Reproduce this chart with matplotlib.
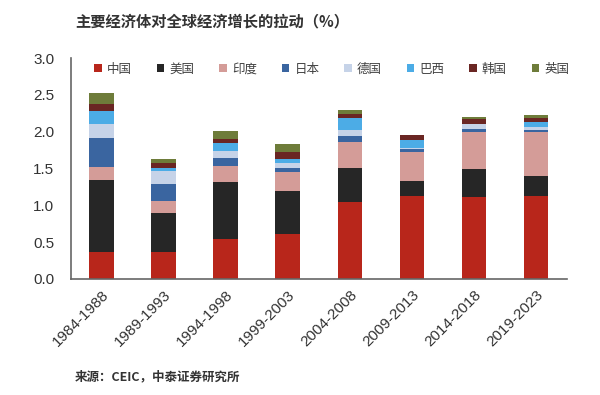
'''
fun: stacked bar of each economy's contribution to world growth
'''
import numpy as np
import matplotlib
matplotlib.use('Agg')
import matplotlib.pyplot as plt

plt.rcParams['font.family'] = ['Liberation Sans', 'Noto Sans CJK SC', 'DejaVu Sans']

periods = ['1984-1988', '1989-1993', '1994-1998', '1999-2003',
           '2004-2008', '2009-2013', '2014-2018', '2019-2023']
countries = ['中国', '美国', '印度', '日本', '德国', '巴西', '韩国', '英国']

china = [0.37, 0.37, 0.54, 0.61, 1.04, 1.13, 1.11, 1.12]
usa = [0.98, 0.52, 0.77, 0.59, 0.46, 0.20, 0.38, 0.28]
india = [0.17, 0.17, 0.23, 0.25, 0.36, 0.40, 0.50, 0.59]
japan = [0.40, 0.23, 0.10, 0.06, 0.08, 0.03, 0.04, 0.03]
germany = [0.18, 0.18, 0.10, 0.06, 0.08, 0.02, 0.07, 0.04]
brazil = [0.18, 0.03, 0.10, 0.06, 0.16, 0.11, 0.01, 0.07]
korea = [0.09, 0.08, 0.06, 0.10, 0.06, 0.06, 0.06, 0.05]
uk = [0.15, 0.05, 0.11, 0.10, 0.06, 0.01, 0.03, 0.04]


def plotStacked(figName):
	'''plot the stacked bars'''
	series = [china, usa, india, japan, germany, brazil, korea, uk]
	colors = ['#B8261B', '#262626', '#D49C98', '#3A65A0', '#C6D3E8', '#4CACE6', '#6A2623', '#6E7C3A']

	fig = plt.figure(figsize=(6, 3.95), dpi=100)
	ax = fig.add_axes([0.118, 0.294, 0.827, 0.559])

	_X = np.arange(len(periods))
	bottom = np.zeros(len(periods))
	for i in range(len(series)):
		vals = np.array(series[i])
		ax.bar(_X, vals, width=0.4, bottom=bottom, color=colors[i], label=countries[i], linewidth=0)
		bottom += vals

	ax.set_xlim(-0.5, len(periods) - 0.5)
	ax.set_ylim(0, 3.0)
	ax.set_yticks(np.arange(0, 3.01, 0.5))
	ax.set_yticklabels(['%.1f' % v for v in np.arange(0, 3.01, 0.5)])
	ax.set_xticks(_X)
	ax.set_xticklabels(periods, rotation=45, ha='right', rotation_mode='anchor')
	ax.tick_params(axis='both', length=0, labelsize=11, colors='#333333')
	ax.tick_params(axis='x', pad=6)
	ax.tick_params(axis='y', pad=12)
	for s in ['top', 'right']:
		ax.spines[s].set_visible(False)
	for s in ['left', 'bottom']:
		ax.spines[s].set_color('#666666')
		ax.spines[s].set_linewidth(1.2)

	ax.legend(loc='upper left', bbox_to_anchor=(0.025, 1.03), ncol=8, frameon=False,
		handlelength=0.6, handleheight=0.6, handletextpad=0.4, columnspacing=2.0,
		prop={'family': ['Noto Sans CJK SC'], 'size': 9}, labelcolor='#404040')

	fig.text(0.125, 0.945, '主要经济体对全球经济增长的拉动（%）', fontsize=11,
		fontweight='bold', color='#333333', family=['Noto Sans CJK SC', 'DejaVu Sans'], va='center')
	fig.text(0.125, 0.045, '来源：CEIC，中泰证券研究所', fontsize=9,
		fontweight='bold', color='#333333', family=['Noto Sans CJK SC', 'DejaVu Sans'], va='center')

	plt.savefig(figName, dpi=100)


## main function
def main():
	plotStacked('out.png')


if __name__ == '__main__':
	main()
